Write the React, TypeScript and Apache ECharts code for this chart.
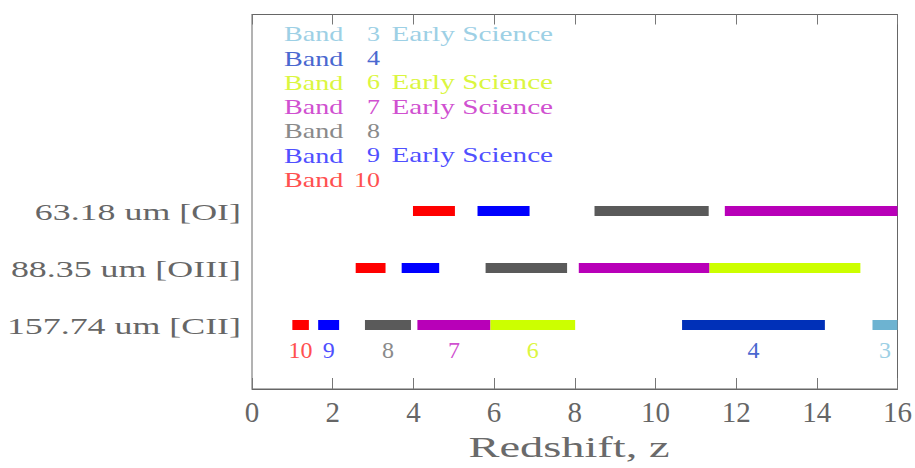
import React, { useEffect, useRef } from 'react';
import * as echarts from 'echarts';

// ALMA bands
const bands = ['3', '4', '6', '7', '8', '9', '10'];
const earlyScience = [true, false, true, true, false, true, false];
const barColors = ['#6db3d1', '#0030b8', '#ccff00', '#b800b8', '#5a5a5a', '#0000ff', '#ff0000'];
const textColors = ['#9dd0e5', '#4a68d0', '#dbf640', '#d050d0', '#8a8a8a', '#5050ff', '#ff5050'];

// Emission lines (rows from bottom to top)
const lineNames = ['157.74 um [CII]', '88.35 um [OIII]', '63.18 um [OI]'];

// [CII] coverage
const ciiBand = ['10', '9', '8', '7', '6', '4', '3'];
const ciiStart = [1.0, 1.64, 2.8, 4.1, 5.91, 10.66, 15.38];
const ciiEnd = [1.41, 2.16, 3.94, 5.91, 8.01, 14.2, 16.0];

// [OIII] coverage
const oiiiBand = ['10', '9', '8', '7', '6'];
const oiiiStart = [2.57, 3.71, 5.79, 8.1, 11.34];
const oiiiEnd = [3.31, 4.64, 7.81, 11.34, 15.08];

// [OI] coverage
const oiBand = ['10', '9', '8', '7'];
const oiStart = [3.99, 5.59, 8.49, 11.72];
const oiEnd = [5.03, 6.88, 11.32, 16.0];

const xMin = 0;
const xMax = 16;
const xInterval = 2;

const SERIF = '"Liberation Serif", "DejaVu Serif", serif';

export default function App() {
  const ref = useRef<HTMLDivElement>(null);

  useEffect(() => {
    if (!ref.current) return;
    const chart = echarts.init(ref.current, null, { renderer: 'svg' });

    const bi = (b: string) => bands.indexOf(b);
    const barData: number[][] = [
      ...ciiBand.map((b, i) => [1, ciiStart[i], ciiEnd[i], bi(b)]),
      ...oiiiBand.map((b, i) => [2, oiiiStart[i], oiiiEnd[i], bi(b)]),
      ...oiBand.map((b, i) => [3, oiStart[i], oiEnd[i], bi(b)]),
    ];
    const bandLabelData = ciiBand.map((b, i) => [(ciiStart[i] + ciiEnd[i]) / 2, bi(b)]);
    const rowData = lineNames.map((_, i) => [0, i + 1]);

    const legendEls: any[] = [];
    bands.forEach((b, i) => {
      const y = 33.4 + 24.3 * i;
      const col = textColors[i];
      const font = { fontFamily: SERIF, fontSize: 22, fill: col, verticalAlign: 'middle' };
      legendEls.push({ type: 'text', x: 284, y, scaleX: 1.28, silent: true, style: { ...font, text: 'Band', align: 'left' } });
      legendEls.push({ type: 'text', x: 380, y, scaleX: 1.18, silent: true, style: { ...font, text: b, align: 'right' } });
      if (earlyScience[i]) {
        legendEls.push({ type: 'text', x: 391.5, y, scaleX: 1.33, silent: true, style: { ...font, text: 'Early Science', align: 'left' } });
      }
    });
    legendEls.push({
      type: 'text', x: 569, y: 447.5, scaleX: 1.6, silent: true,
      style: { text: 'Redshift, z', fontFamily: SERIF, fontSize: 29, fill: '#6a6a6a', align: 'center', verticalAlign: 'middle' },
    });

    const option: any = {
      animation: false,
      backgroundColor: '#fff',
      grid: { left: 252, right: 17.5, top: 14.5, bottom: 79, show: true, borderColor: '#666', borderWidth: 1, containLabel: false },
      xAxis: [
        {
          type: 'value', min: xMin, max: xMax, interval: xInterval, position: 'bottom',
          axisLine: { show: true, onZero: false, lineStyle: { color: '#666', width: 1 } },
          axisTick: { show: true, inside: true, length: 11, lineStyle: { color: '#777' } },
          axisLabel: { show: true, margin: 8, fontFamily: SERIF, fontSize: 29, color: '#666' },
          splitLine: { show: false },
        },
        {
          type: 'value', min: xMin, max: xMax, interval: xInterval, position: 'top',
          axisLine: { show: true, onZero: false, lineStyle: { color: '#666', width: 1 } },
          axisTick: { show: true, inside: true, length: 10, lineStyle: { color: '#777' } },
          axisLabel: { show: false },
          splitLine: { show: false },
        },
      ],
      yAxis: {
        type: 'value', min: -0.123, max: 6.447,
        axisLine: { show: false }, axisTick: { show: false }, axisLabel: { show: false }, splitLine: { show: false },
      },
      graphic: { elements: legendEls },
      series: [
        {
          type: 'custom', xAxisIndex: 0, yAxisIndex: 0, silent: true,
          data: barData,
          renderItem: (params: any, api: any) => {
            const row = api.value(0);
            const p0 = api.coord([api.value(1), row]);
            const p1 = api.coord([api.value(2), row]);
            const h = 10;
            const cs = params.coordSys;
            const shape = echarts.graphic.clipRectByRect(
              { x: p0[0], y: p0[1] - h / 2, width: p1[0] - p0[0], height: h },
              { x: cs.x, y: cs.y, width: cs.width, height: cs.height }
            );
            if (!shape) return null;
            return { type: 'rect', shape, style: { fill: barColors[api.value(3)] } };
          },
        },
        {
          type: 'custom', xAxisIndex: 0, yAxisIndex: 0, silent: true, clip: false,
          data: rowData,
          renderItem: (params: any, api: any) => {
            const p = api.coord([api.value(0), api.value(1)]);
            return {
              type: 'text', x: p[0] - 11, y: p[1] + 1, scaleX: 1.56,
              style: { text: lineNames[params.dataIndex], fontFamily: SERIF, fontSize: 23, fill: '#666', align: 'right', verticalAlign: 'middle' },
            };
          },
        },
        {
          type: 'custom', xAxisIndex: 0, yAxisIndex: 0, silent: true, clip: false,
          data: bandLabelData,
          renderItem: (params: any, api: any) => {
            const p = api.coord([api.value(0), 1]);
            const idx = api.value(1);
            return {
              type: 'text', x: p[0], y: p[1] + 25,
              style: { text: bands[idx], fontFamily: SERIF, fontSize: 24, fill: textColors[idx], align: 'center', verticalAlign: 'middle' },
            };
          },
        },
      ],
    };

    chart.setOption(option);
    return () => chart.dispose();
  }, []);

  return <div ref={ref} style={{ position: 'absolute', left: 0, top: 0, width: 915, height: 468, background: '#fff' }} />;
}
